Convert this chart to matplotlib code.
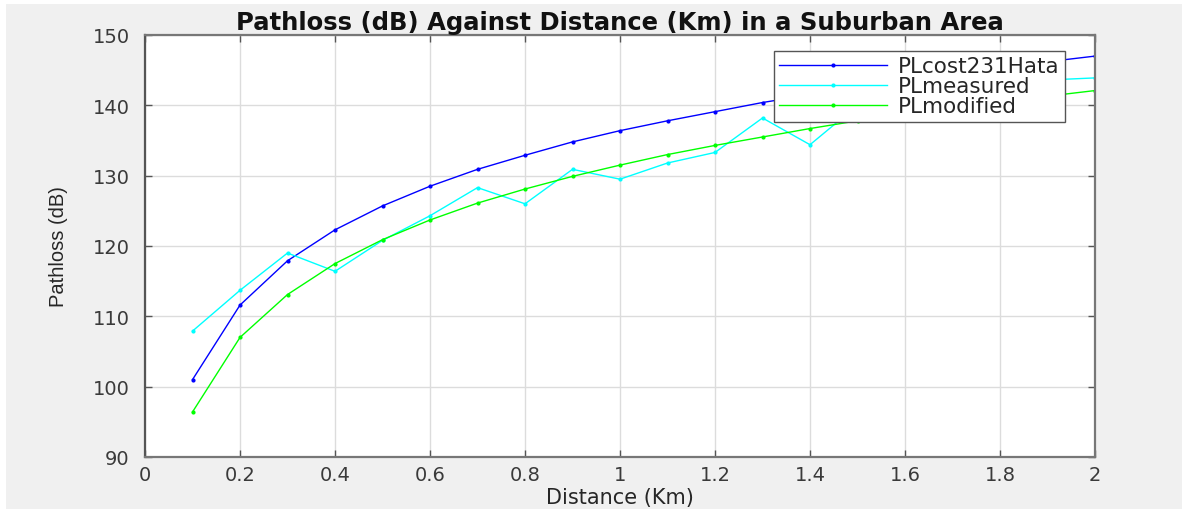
import numpy as np
import matplotlib
matplotlib.use("Agg")
import matplotlib.pyplot as plt
from matplotlib.patches import Rectangle

plt.rcParams['font.family'] = ['DejaVu Sans']

# distance (km)
distance = [0.1, 0.2, 0.3, 0.4, 0.5, 0.6, 0.7, 0.8, 0.9, 1.0,
            1.1, 1.2, 1.3, 1.4, 1.5, 1.6, 1.7, 1.8, 1.9, 2.0]

# pathloss (dB)
pl_hata = [101.0, 111.6, 117.9, 122.3, 125.7, 128.5, 130.9, 132.9, 134.8, 136.4,
           137.8, 139.1, 140.4, 141.5, 142.6, 143.6, 144.5, 145.4, 146.2, 147.0]
pl_measured = [107.9, 113.7, 119.0, 116.4, 120.8, 124.3, 128.3, 126.0, 130.9, 129.5,
               131.8, 133.3, 138.2, 134.4, 140.0, 140.6, 141.8, 142.2, 143.6, 143.9]
pl_modified = [96.4, 107.0, 113.1, 117.5, 120.9, 123.7, 126.1, 128.1, 129.9, 131.5,
               133.0, 134.3, 135.5, 136.7, 137.8, 138.8, 139.7, 140.5, 141.3, 142.1]

xticks = [0, 0.2, 0.4, 0.6, 0.8, 1, 1.2, 1.4, 1.6, 1.8, 2]
xticklabels = ['0', '0.2', '0.4', '0.6', '0.8', '1', '1.2', '1.4', '1.6', '1.8', '2']
yticks = [90, 100, 110, 120, 130, 140, 150]

txt = '#262626'
fig = plt.figure(figsize=(11.82, 5.10), dpi=100, facecolor='white')
# grey matlab-like background, with a thin white strip top/left
fig.patches.append(Rectangle((6 / 1182, 0), 1, 1 - 5 / 510, transform=fig.transFigure,
                             facecolor='#f0f0f0', edgecolor='none', zorder=-10))

ax = fig.add_axes([145 / 1182, 52 / 510, 950 / 1182, 422 / 510])
ax.set_facecolor('white')

ax.plot(distance, pl_hata, '.-', color='#0000ff', lw=1.0, ms=4, label='PLcost231Hata')
ax.plot(distance, pl_measured, '.-', color='#00ffff', lw=1.0, ms=4, label='PLmeasured')
ax.plot(distance, pl_modified, '.-', color='#00ff00', lw=1.0, ms=4, label='PLmodified')

ax.set_xlim(0, 2)
ax.set_ylim(90, 150)
ax.set_xticks(xticks)
ax.set_xticklabels(xticklabels)
ax.set_yticks(yticks)
ax.grid(True, color='#dcdcdc', lw=1.0)
ax.set_axisbelow(True)
ax.tick_params(direction='in', top=True, right=True, length=5, width=1,
               color='#555555', labelsize=14, labelcolor='#3a3a3a')
ax.tick_params(axis='y', pad=11)
ax.tick_params(axis='x', pad=6)
for s in ax.spines.values():
    s.set_color('#777777')
    s.set_linewidth(1.6)
ax.spines['left'].set_color('#555555')

ax.set_title('Pathloss (dB) Against Distance (Km) in a Suburban Area',
             fontsize=17.5, fontweight='bold', color='#111111', pad=4)
ax.set_xlabel('Distance (Km)', fontsize=15, color=txt, labelpad=2)
ax.set_ylabel('Pathloss (dB)', fontsize=14.5, color=txt, labelpad=18,
              family='Liberation Sans')

leg = ax.legend(loc='upper right', bbox_to_anchor=(0.968, 0.962), fontsize=15.5,
                frameon=True, fancybox=False, framealpha=1, borderpad=0.25,
                labelspacing=0.0, handlelength=5.0, handletextpad=0.5,
                borderaxespad=0)
leg.get_frame().set_edgecolor('#555555')
leg.get_frame().set_linewidth(1.0)
for t in leg.get_texts():
    t.set_color(txt)

fig.savefig('out.png', dpi=100, facecolor=fig.get_facecolor())
